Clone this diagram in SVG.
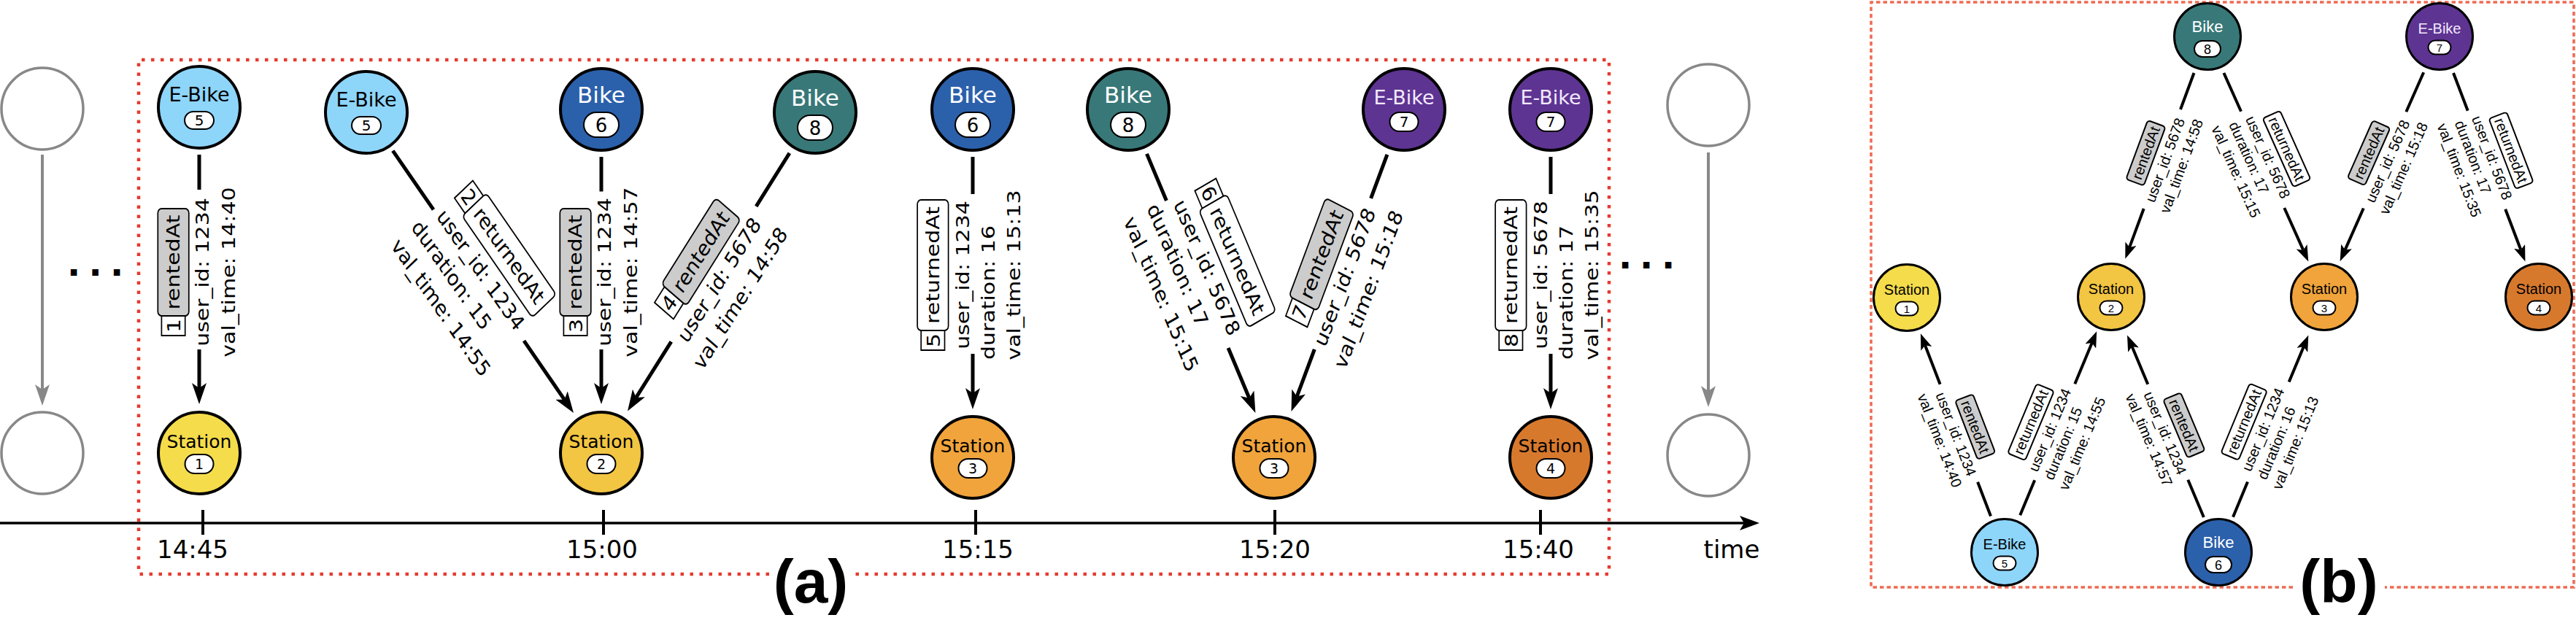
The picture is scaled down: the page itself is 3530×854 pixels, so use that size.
<svg xmlns="http://www.w3.org/2000/svg" width="3530" height="854" viewBox="0 0 3530 854">
<defs>
<style>
.nd{stroke:#000;stroke-width:4}
.nb{stroke:#000;stroke-width:3}
.pill{fill:#fff;stroke:#000;stroke-width:2}
.ta{font-family:'DejaVu Sans',Verdana,sans-serif;text-anchor:middle;fill:#000}
.tb{font-family:'Liberation Sans',Arial,Helvetica,sans-serif;text-anchor:middle;fill:#000}
.la{font-family:'DejaVu Sans',Verdana,sans-serif;text-anchor:middle;font-size:30px;fill:#000}
.lb{font-family:'Liberation Sans',Arial,Helvetica,sans-serif;text-anchor:middle;font-size:20px;fill:#000}
.dot{font-family:'DejaVu Sans',sans-serif;font-weight:bold;font-size:48px;text-anchor:middle;fill:#000}
.e{stroke:#000;stroke-width:5;fill:none;marker-end:url(#ah)}
.eb{stroke:#000;stroke-width:4;fill:none;marker-end:url(#ahb)}
.rent{fill:#cccccc;stroke:#000;stroke-width:2}
.ret{fill:#fff;stroke:#000;stroke-width:2}
.num{fill:#fff;stroke:#000;stroke-width:2}
.ghost{fill:#fff;stroke:#888;stroke-width:3.5}
.w{fill:#fff}
.lv{fill:#f2eaff}
</style>
<marker id="ah" markerUnits="userSpaceOnUse" viewBox="0 0 30 20" markerWidth="30" markerHeight="20" refX="7" refY="10" orient="auto"><path d="M0,0 L29,10 L0,20 L7,10 Z" fill="#000"/></marker>
<marker id="ahb" markerUnits="userSpaceOnUse" viewBox="0 0 23 16" markerWidth="23" markerHeight="16" refX="5" refY="8" orient="auto"><path d="M0,0 L22,8 L0,16 L5,8 Z" fill="#000"/></marker>
<marker id="ahg" markerUnits="userSpaceOnUse" viewBox="0 0 30 20" markerWidth="30" markerHeight="20" refX="7" refY="10" orient="auto"><path d="M0,0 L29,10 L0,20 L7,10 Z" fill="#888"/></marker>
<marker id="aht" markerUnits="userSpaceOnUse" viewBox="0 0 28 20" markerWidth="28" markerHeight="20" refX="6" refY="10" orient="auto"><path d="M0,0 L27,10 L0,20 L6,10 Z" fill="#000"/></marker>
</defs>
<rect x="0" y="0" width="3530" height="854" fill="#fff"/>

<!-- Panel frames -->
<g id="frames">
<path d="M1054,787 H190 V82 H2205 V787 H1171" fill="none" stroke="#E53A2F" stroke-width="4.5" stroke-dasharray="4.5 8.5"/>
<path d="M3142,805 H2564 V3 H3527 V805 H3268" fill="none" stroke="#EE6A52" stroke-width="3.5" stroke-dasharray="5.5 4"/>
<text class="tb" x="1111" y="826" font-size="84" font-weight="bold">(a)</text>
<text class="tb" x="3205" y="826" font-size="84" font-weight="bold">(b)</text>
</g>

<!-- Time axis -->
<g id="time-axis">
<line x1="0" y1="717" x2="2390" y2="717" stroke="#000" stroke-width="3.5" marker-end="url(#aht)"/>
<g stroke="#000" stroke-width="4">
<line x1="278" y1="699" x2="278" y2="733"/>
<line x1="827" y1="699" x2="827" y2="733"/>
<line x1="1337" y1="699" x2="1337" y2="733"/>
<line x1="1747" y1="699" x2="1747" y2="733"/>
<line x1="2111" y1="699" x2="2111" y2="733"/>
</g>
<text class="ta" x="264" y="765" font-size="34">14:45</text>
<text class="ta" x="825" y="765" font-size="34">15:00</text>
<text class="ta" x="1340" y="765" font-size="34">15:15</text>
<text class="ta" x="1747" y="765" font-size="34">15:20</text>
<text class="ta" x="2108" y="765" font-size="34">15:40</text>
<text class="ta" x="2373" y="765" font-size="34">time</text>
</g>

<!-- Ghost (generic) nodes -->
<g id="ghost-left">
<circle class="ghost" cx="58" cy="149" r="56"/>
<circle class="ghost" cx="58" cy="621" r="56"/>
<line x1="58" y1="212" x2="58" y2="534" stroke="#888" stroke-width="4" marker-end="url(#ahg)"/>
<text class="dot" x="101" y="378">.</text><text class="dot" x="130.5" y="378">.</text><text class="dot" x="160" y="378">.</text>
</g>
<g id="ghost-right">
<circle class="ghost" cx="2341" cy="144" r="56"/>
<circle class="ghost" cx="2341" cy="624" r="56"/>
<line x1="2341" y1="209" x2="2341" y2="536" stroke="#888" stroke-width="4" marker-end="url(#ahg)"/>
<text class="dot" x="2227" y="368">.</text><text class="dot" x="2256" y="368">.</text><text class="dot" x="2286" y="368">.</text>
</g>

<!-- Connectors -->
<g id="connectors">
<path class="e" d="M273,212 L273,260 M273,479 L273,532"/>
<path class="e" d="M538.3,206.7 L594,287.4 M718,467.2 L773.5,547.8"/>
<path class="e" d="M824,215 L824,262.5 M824,479 L824,532"/>
<path class="e" d="M1081.9,209.9 L1036.2,282.8 M919.8,468.3 L871.7,544.9"/>
<path class="e" d="M1333,215 L1333,266 M1333,485 L1333,539"/>
<path class="e" d="M1571.5,210.9 L1598.4,275 M1683.1,477 L1711.9,545.7"/>
<path class="e" d="M1900.9,211.8 L1878.6,271.8 M1801.3,478.9 L1777.2,543.5"/>
<path class="e" d="M2125,215 L2125,266 M2125,485 L2125,539"/>

<path class="eb" d="M2728,707.5 L2710.1,660.8 M2658.6,526.7 L2638,473.2"/>
<path class="eb" d="M2768.2,706.2 L2788.2,658.2 M2843.3,526.3 L2866.7,469.9"/>
<path class="eb" d="M3019.9,709.1 L2998.3,657.7 M2943.3,526.8 L2921.6,475.1"/>
<path class="eb" d="M3006.5,100 L2988,150 M2937.7,286 L2918.2,338.9"/>
<path class="eb" d="M3060,708.8 L3080,660.4 M3136.7,523.6 L3156.8,475.2"/>
<path class="eb" d="M3047.4,100 L3071,152.7 M3130.3,285 L3156.3,342.9"/>
<path class="eb" d="M3321.2,99.3 L3297.3,153.3 M3238.8,285.5 L3213.5,342.6"/>
<path class="eb" d="M3362,100 L3381.7,151.7 M3433.2,286.7 L3454.4,342.5"/>
</g>

<!-- Edge labels panel (a) -->
<g id="labels-a">
<g transform="translate(277.5,373) scale(0.85,1) rotate(-90)">
<rect class="num" x="-87" y="-66" width="27" height="38"/><text class="la" x="-73.5" y="-36">1</text>
<rect class="rent" x="-60" y="-72" width="147" height="50" rx="6"/><text class="la" x="13.5" y="-36.5">rentedAt</text>
<text class="la" x="0" y="10">user_id: 1234</text>
<text class="la" x="0" y="52">val_time: 14:40</text>
</g>
<g transform="translate(645,383) scale(0.85,1) rotate(50.94)">
<rect class="num" x="-103" y="-88" width="27" height="38"/><text class="la" x="-89.5" y="-58">2</text>
<rect class="ret" x="-76" y="-94" width="179" height="50" rx="6"/><text class="la" x="13.5" y="-58.5">returnedAt</text>
<text class="la" x="0" y="-10.5">user_id: 1234</text>
<text class="la" x="-24" y="30.5">duration: 15</text>
<text class="la" x="0" y="72">val_time: 14:55</text>
</g>
<g transform="translate(828.5,373) scale(0.85,1) rotate(-90)">
<rect class="num" x="-87" y="-66" width="27" height="38"/><text class="la" x="-73.5" y="-36">3</text>
<rect class="rent" x="-60" y="-72" width="147" height="50" rx="6"/><text class="la" x="13.5" y="-36.5">rentedAt</text>
<text class="la" x="0" y="10">user_id: 1234</text>
<text class="la" x="0" y="52">val_time: 14:57</text>
</g>
<g transform="translate(986,384) scale(0.85,1) rotate(-53.57)">
<rect class="num" x="-87" y="-66" width="27" height="38"/><text class="la" x="-73.5" y="-36">4</text>
<rect class="rent" x="-60" y="-72" width="147" height="50" rx="6"/><text class="la" x="13.5" y="-36.5">rentedAt</text>
<text class="la" x="0" y="10">user_id: 5678</text>
<text class="la" x="0" y="52">val_time: 14:58</text>
</g>
<g transform="translate(1337,377) scale(0.85,1) rotate(-90)">
<rect class="num" x="-103" y="-88" width="27" height="38"/><text class="la" x="-89.5" y="-58">5</text>
<rect class="ret" x="-76" y="-94" width="179" height="50" rx="6"/><text class="la" x="13.5" y="-58.5">returnedAt</text>
<text class="la" x="0" y="-10.5">user_id: 1234</text>
<text class="la" x="-24" y="30.5">duration: 16</text>
<text class="la" x="0" y="72">val_time: 15:13</text>
</g>
<g transform="translate(1638,376) scale(0.85,1) rotate(63.74)">
<rect class="num" x="-103" y="-88" width="27" height="38"/><text class="la" x="-89.5" y="-58">6</text>
<rect class="ret" x="-76" y="-94" width="179" height="50" rx="6"/><text class="la" x="13.5" y="-58.5">returnedAt</text>
<text class="la" x="0" y="-10.5">user_id: 5678</text>
<text class="la" x="-24" y="30.5">duration: 17</text>
<text class="la" x="0" y="72">val_time: 15:15</text>
</g>
<g transform="translate(1843,380) scale(0.85,1) rotate(-66.3)">
<rect class="num" x="-87" y="-66" width="27" height="38"/><text class="la" x="-73.5" y="-36">7</text>
<rect class="rent" x="-60" y="-72" width="147" height="50" rx="6"/><text class="la" x="13.5" y="-36.5">rentedAt</text>
<text class="la" x="0" y="10">user_id: 5678</text>
<text class="la" x="0" y="52">val_time: 15:18</text>
</g>
<g transform="translate(2129,377) scale(0.85,1) rotate(-90)">
<rect class="num" x="-103" y="-88" width="27" height="38"/><text class="la" x="-89.5" y="-58">8</text>
<rect class="ret" x="-76" y="-94" width="179" height="50" rx="6"/><text class="la" x="13.5" y="-58.5">returnedAt</text>
<text class="la" x="0" y="-10.5">user_id: 5678</text>
<text class="la" x="-24" y="30.5">duration: 17</text>
<text class="la" x="0" y="72">val_time: 15:35</text>
</g>
</g>

<!-- Edge labels panel (b) -->
<g id="labels-b">
<g transform="translate(2680.6,595.1) rotate(69)">
<rect class="rent" x="-43" y="-41" width="86" height="26" rx="4"/><text class="lb" x="0" y="-21">rentedAt</text>
<text class="lb" x="0" y="7">user_id: 1234</text>
<text class="lb" x="0" y="31">val_time: 14:40</text>
</g>
<g transform="translate(2819.9,594) rotate(-67.4)">
<rect class="ret" x="-51.5" y="-53" width="103" height="26" rx="4"/><text class="lb" x="0" y="-33">returnedAt</text>
<text class="lb" x="0" y="-5">user_id: 1234</text>
<text class="lb" x="-10" y="19">duration: 15</text>
<text class="lb" x="0" y="43">val_time: 14:55</text>
</g>
<g transform="translate(2967.1,593.7) rotate(67.2)">
<rect class="rent" x="-43" y="-41" width="86" height="26" rx="4"/><text class="lb" x="0" y="-21">rentedAt</text>
<text class="lb" x="0" y="7">user_id: 1234</text>
<text class="lb" x="0" y="31">val_time: 14:57</text>
</g>
<g transform="translate(2966.7,219.4) rotate(-69.7)">
<rect class="rent" x="-43" y="-41" width="86" height="26" rx="4"/><text class="lb" x="0" y="-21">rentedAt</text>
<text class="lb" x="0" y="7">user_id: 5678</text>
<text class="lb" x="0" y="31">val_time: 14:58</text>
</g>
<g transform="translate(3112.1,593.5) rotate(-67.5)">
<rect class="ret" x="-51.5" y="-53" width="103" height="26" rx="4"/><text class="lb" x="0" y="-33">returnedAt</text>
<text class="lb" x="0" y="-5">user_id: 1234</text>
<text class="lb" x="-10" y="19">duration: 16</text>
<text class="lb" x="0" y="43">val_time: 15:13</text>
</g>
<g transform="translate(3097,220.4) rotate(65.9)">
<rect class="ret" x="-51.5" y="-53" width="103" height="26" rx="4"/><text class="lb" x="0" y="-33">returnedAt</text>
<text class="lb" x="0" y="-5">user_id: 5678</text>
<text class="lb" x="-10" y="19">duration: 17</text>
<text class="lb" x="0" y="43">val_time: 15:15</text>
</g>
<g transform="translate(3271.7,221) rotate(-66.1)">
<rect class="rent" x="-43" y="-41" width="86" height="26" rx="4"/><text class="lb" x="0" y="-21">rentedAt</text>
<text class="lb" x="0" y="7">user_id: 5678</text>
<text class="lb" x="0" y="31">val_time: 15:18</text>
</g>
<g transform="translate(3403.7,220.5) rotate(69.1)">
<rect class="ret" x="-51.5" y="-53" width="103" height="26" rx="4"/><text class="lb" x="0" y="-33">returnedAt</text>
<text class="lb" x="0" y="-5">user_id: 5678</text>
<text class="lb" x="-10" y="19">duration: 17</text>
<text class="lb" x="0" y="43">val_time: 15:35</text>
</g>
</g>

<!-- Panel (a) nodes -->
<g id="a-ebike5-t1"><circle class="nd" cx="273" cy="147" r="56" fill="#8ED5FA"/><text class="ta" x="273" y="139" font-size="27">E-Bike</text><rect class="pill" x="253" y="153" width="40" height="24" rx="12"/><text class="ta" x="273" y="172" font-size="20">5</text></g>
<g id="a-station1"><circle class="nd" cx="273" cy="621" r="56" fill="#F5DC4B"/><text class="ta" x="273" y="614" font-size="25">Station</text><rect class="pill" x="253.5" y="623" width="39" height="26" rx="13"/><text class="ta" x="273" y="643" font-size="19">1</text></g>
<g id="a-ebike5-t2"><circle class="nd" cx="502" cy="154" r="56" fill="#8ED5FA"/><text class="ta" x="502" y="146" font-size="27">E-Bike</text><rect class="pill" x="482" y="160" width="40" height="24" rx="12"/><text class="ta" x="502" y="179" font-size="20">5</text></g>
<g id="a-bike6-t1"><circle class="nd" cx="824" cy="150" r="56" fill="#2B60AB"/><text class="ta w" x="824" y="140.5" font-size="31">Bike</text><rect class="pill" x="800" y="154" width="48" height="34" rx="17"/><text class="ta" x="824" y="180.5" font-size="26">6</text></g>
<g id="a-bike8-t1"><circle class="nd" cx="1117" cy="154" r="56" fill="#387878"/><text class="ta w" x="1117" y="144.5" font-size="31">Bike</text><rect class="pill" x="1093" y="158" width="48" height="34" rx="17"/><text class="ta" x="1117" y="184.5" font-size="26">8</text></g>
<g id="a-station2"><circle class="nd" cx="824" cy="621" r="56" fill="#F2C542"/><text class="ta" x="824" y="614" font-size="25">Station</text><rect class="pill" x="804.5" y="623" width="39" height="26" rx="13"/><text class="ta" x="824" y="643" font-size="19">2</text></g>
<g id="a-bike6-t2"><circle class="nd" cx="1333" cy="150" r="56" fill="#2B60AB"/><text class="ta w" x="1333" y="140.5" font-size="31">Bike</text><rect class="pill" x="1309" y="154" width="48" height="34" rx="17"/><text class="ta" x="1333" y="180.5" font-size="26">6</text></g>
<g id="a-station3-t1"><circle class="nd" cx="1333" cy="627" r="56" fill="#F0A43B"/><text class="ta" x="1333" y="620" font-size="25">Station</text><rect class="pill" x="1313.5" y="629" width="39" height="26" rx="13"/><text class="ta" x="1333" y="649" font-size="19">3</text></g>
<g id="a-bike8-t2"><circle class="nd" cx="1546" cy="150" r="56" fill="#387878"/><text class="ta w" x="1546" y="140.5" font-size="31">Bike</text><rect class="pill" x="1522" y="154" width="48" height="34" rx="17"/><text class="ta" x="1546" y="180.5" font-size="26">8</text></g>
<g id="a-station3-t2"><circle class="nd" cx="1746" cy="627" r="56" fill="#F0A43B"/><text class="ta" x="1746" y="620" font-size="25">Station</text><rect class="pill" x="1726.5" y="629" width="39" height="26" rx="13"/><text class="ta" x="1746" y="649" font-size="19">3</text></g>
<g id="a-ebike7-t1"><circle class="nd" cx="1924" cy="150" r="56" fill="#5E3492"/><text class="ta lv" x="1924" y="142.5" font-size="27">E-Bike</text><rect class="pill" x="1904.5" y="154" width="39" height="26" rx="13"/><text class="ta" x="1924" y="174" font-size="20">7</text></g>
<g id="a-ebike7-t2"><circle class="nd" cx="2125" cy="150" r="56" fill="#5E3492"/><text class="ta lv" x="2125" y="142.5" font-size="27">E-Bike</text><rect class="pill" x="2105.5" y="154" width="39" height="26" rx="13"/><text class="ta" x="2125" y="174" font-size="20">7</text></g>
<g id="a-station4"><circle class="nd" cx="2125" cy="627" r="56" fill="#D7792D"/><text class="ta" x="2125" y="620" font-size="25">Station</text><rect class="pill" x="2105.5" y="629" width="39" height="26" rx="13"/><text class="ta" x="2125" y="649" font-size="19">4</text></g>

<!-- Panel (b) nodes -->
<g id="b-station1"><circle class="nb" cx="2613" cy="408" r="45.5" fill="#F5DC4B"/><text class="tb" x="2613" y="404" font-size="20">Station</text><rect class="pill" x="2597.5" y="413.5" width="31" height="19" rx="9.5"/><text class="tb" x="2613" y="428.5" font-size="15">1</text></g>
<g id="b-station2"><circle class="nb" cx="2893" cy="407" r="45.5" fill="#F2C542"/><text class="tb" x="2893" y="403" font-size="20">Station</text><rect class="pill" x="2877.5" y="412.5" width="31" height="19" rx="9.5"/><text class="tb" x="2893" y="427.5" font-size="15">2</text></g>
<g id="b-station3"><circle class="nb" cx="3185" cy="407" r="45.5" fill="#F0A43B"/><text class="tb" x="3185" y="403" font-size="20">Station</text><rect class="pill" x="3169.5" y="412.5" width="31" height="19" rx="9.5"/><text class="tb" x="3185" y="427.5" font-size="15">3</text></g>
<g id="b-station4"><circle class="nb" cx="3479" cy="407" r="45.5" fill="#D7792D"/><text class="tb" x="3479" y="403" font-size="20">Station</text><rect class="pill" x="3463.5" y="412.5" width="31" height="19" rx="9.5"/><text class="tb" x="3479" y="427.5" font-size="15">4</text></g>
<g id="b-ebike5"><circle class="nb" cx="2747" cy="757" r="45.5" fill="#8ED5FA"/><text class="tb" x="2747" y="753" font-size="20">E-Bike</text><rect class="pill" x="2731.5" y="762.5" width="31" height="19" rx="9.5"/><text class="tb" x="2747" y="777.5" font-size="15">5</text></g>
<g id="b-bike6"><circle class="nb" cx="3040" cy="757" r="45.5" fill="#2B60AB"/><text class="tb w" x="3040" y="751" font-size="22">Bike</text><rect class="pill" x="3022" y="763" width="36" height="22" rx="11"/><text class="tb" x="3040" y="780.5" font-size="18">6</text></g>
<g id="b-bike8"><circle class="nb" cx="3025" cy="50" r="45.5" fill="#387878"/><text class="tb w" x="3025" y="44" font-size="22">Bike</text><rect class="pill" x="3007" y="56" width="36" height="22" rx="11"/><text class="tb" x="3025" y="73.5" font-size="18">8</text></g>
<g id="b-ebike7"><circle class="nb" cx="3343" cy="50" r="45.5" fill="#5E3492"/><text class="tb lv" x="3343" y="46" font-size="20">E-Bike</text><rect class="pill" x="3327.5" y="55.5" width="31" height="19" rx="9.5"/><text class="tb" x="3343" y="70.5" font-size="15">7</text></g>
</svg>
